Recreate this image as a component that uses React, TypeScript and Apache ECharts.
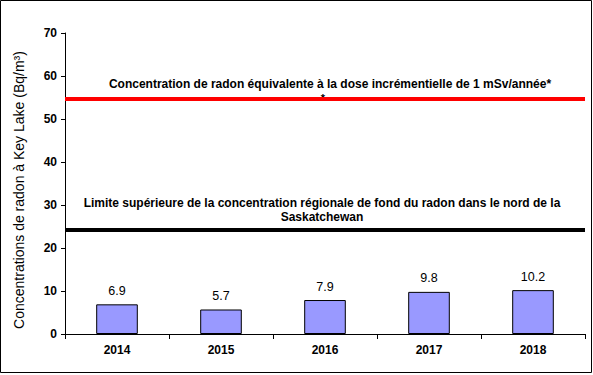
import React, { useEffect, useRef } from "react";
import * as echarts from "echarts";

const years = ["2014", "2015", "2016", "2017", "2018"];
const concentrations = [6.9, 5.7, 7.9, 9.8, 10.2];
const doseLimit = 54.7;
const regionalLimit = 24.3;
const yTitle = "Concentrations de radon à Key Lake (Bq/m³)";
const doseText = "Concentration de radon équivalente à la dose incrémentielle de 1 mSv/année*";
const regionalText1 = "Limite supérieure de la concentration régionale de fond du radon dans le nord de la";
const regionalText2 = "Saskatchewan";

export default function App() {
  const ref = useRef<HTMLDivElement>(null);
  useEffect(() => {
    document.body.style.margin = "0";
    const chart = echarts.init(ref.current!, null, { renderer: "svg" });
    const font = "Arial, 'Liberation Sans', sans-serif";
    chart.setOption({
      animation: false,
      backgroundColor: "#fff",
      textStyle: { fontFamily: font },
      grid: { left: 65, right: 8, top: 33, bottom: 41 },
      xAxis: {
        type: "category",
        data: years,
        axisLine: { lineStyle: { color: "#000", width: 1 } },
        axisTick: { show: true, length: 5, lineStyle: { color: "#000" } },
        axisLabel: { color: "#000", fontWeight: "bold", fontSize: 12, margin: 10, fontFamily: font },
      },
      yAxis: {
        type: "value",
        min: 0,
        max: 70,
        interval: 10,
        axisLine: { show: true, lineStyle: { color: "#000", width: 1 } },
        axisTick: { show: true, length: 4, lineStyle: { color: "#000" } },
        axisLabel: { color: "#000", fontWeight: "bold", fontSize: 12, margin: 8, fontFamily: font },
        splitLine: { show: false },
      },
      series: [
        {
          type: "bar",
          data: concentrations,
          barWidth: "40%",
          itemStyle: { color: "#9999FF", borderColor: "#000", borderWidth: 1 },
          label: {
            show: true,
            position: "top",
            distance: 7,
            color: "#000",
            fontSize: 12.5,
            fontFamily: font,
            formatter: (p: any) => Number(p.value).toFixed(1),
          },
          markLine: {
            symbol: "none",
            silent: true,
            label: { show: false },
            data: [
              { yAxis: doseLimit, lineStyle: { color: "#FF0000", width: 4, type: "solid" } },
              { yAxis: regionalLimit, lineStyle: { color: "#000", width: 4, type: "solid" } },
            ],
          },
        },
      ],
      graphic: [
        {
          type: "rect",
          shape: { x: 0.5, y: 0.5, width: 591, height: 372 },
          style: { fill: "none", stroke: "#000", lineWidth: 1 },
          silent: true,
        },
        {
          type: "text",
          x: 19,
          y: 190,
          rotation: Math.PI / 2,
          style: { text: yTitle, fontSize: 14, fontWeight: "normal", fill: "#000", fontFamily: font, align: "center", verticalAlign: "middle" },
        },
        {
          type: "text",
          x: 330,
          y: 84,
          style: { text: doseText, fontSize: 12, fontWeight: "bold", fill: "#000", fontFamily: font, align: "center", verticalAlign: "middle" },
        },
        {
          type: "text",
          x: 323,
          y: 98,
          style: { text: "*", fontSize: 11, fontWeight: "bold", fill: "#000", fontFamily: font, align: "center", verticalAlign: "middle" },
        },
        {
          type: "text",
          x: 322,
          y: 203,
          style: { text: regionalText1, fontSize: 12, fontWeight: "bold", fill: "#000", fontFamily: font, align: "center", verticalAlign: "middle" },
        },
        {
          type: "text",
          x: 322,
          y: 217,
          style: { text: regionalText2, fontSize: 12, fontWeight: "bold", fill: "#000", fontFamily: font, align: "center", verticalAlign: "middle" },
        },
      ],
    });
    return () => chart.dispose();
  }, []);
  return <div ref={ref} style={{ width: 593, height: 375 }} />;
}
